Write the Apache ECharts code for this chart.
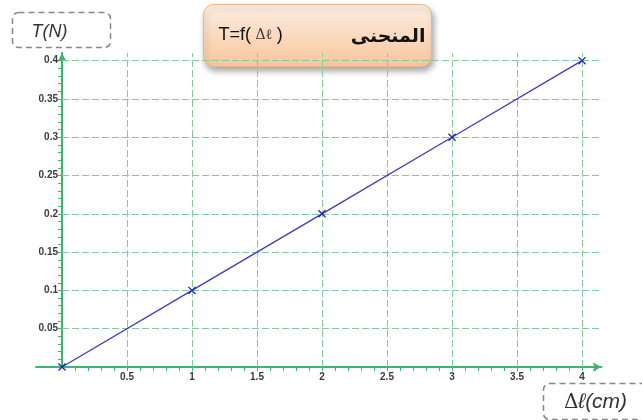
<!DOCTYPE html>
<html>
<head>
<meta charset="utf-8">
<style>html,body{margin:0;padding:0;background:#fff;}#c{width:642px;height:420px;}</style>
<script src="https://cdn.jsdelivr.net/npm/echarts@6/dist/echarts.min.js"></script>
</head>
<body>
<div id="c"></div>
<script>
// Data
const elongation = [0, 1, 2, 3, 4];          // Δℓ (cm)
const tension = [0, 0.1, 0.2, 0.3, 0.4];      // T (N)
const xTickLabels = [0.5, 1, 1.5, 2, 2.5, 3, 3.5, 4];
const yTickLabels = [0.05, 0.1, 0.15, 0.2, 0.25, 0.3, 0.35, 0.4];
const titleText = 'T=f(Δℓ)';
const titleArabic = 'المنحنى';
const yName = 'T(N)';
const xName = 'Δℓ(cm)';

const X_MIN = -0.2, X_MAX = 4.15, Y_MIN = 0, Y_MAX = 0.41;

// minor tick positions (every 0.1 on x, every 0.01 on y)
const xMinor = []; for (let i = 1; i <= 41; i++) xMinor.push(+(i * 0.1).toFixed(2));
const yMinor = []; for (let i = 1; i <= 40; i++) yMinor.push(+(i * 0.01).toFixed(3));

const data = elongation.map((x, i) => [x, tension[i]]);

const gridColor = '#86c99a';
const axisColor = '#3cb66a';

const gridLines = [];
xTickLabels.forEach(v => gridLines.push({ xAxis: v }));
yTickLabels.forEach(v => gridLines.push([{ coord: [0, v] }, { coord: [X_MAX, v] }]));

const crossPath = 'path://M0,1.2L1.2,0L5,3.8L8.8,0L10,1.2L6.2,5L10,8.8L8.8,10L5,6.2L1.2,10L0,8.8L3.8,5Z';

const chart = echarts.init(document.getElementById('c'), null, { renderer: 'canvas' });
chart.setOption({
  animation: false,
  backgroundColor: '#ffffff',
  grid: { left: 36, right: 40.5, top: 53, bottom: 53, containLabel: false },
  xAxis: {
    type: 'value', min: X_MIN, max: X_MAX,
    axisLine: { show: true, onZero: true, lineStyle: { color: axisColor, width: 2 }, symbol: ['none', 'arrow'], symbolSize: [7, 9] },
    axisTick: { show: true, customValues: xMinor, length: 4, inside: false, lineStyle: { color: axisColor, width: 1 } },
    axisLabel: { show: true, customValues: xTickLabels, margin: 5, fontSize: 10, fontWeight: 'bold', color: '#3a3a3a', fontFamily: 'Liberation Sans, Arial, sans-serif', formatter: v => String(v) },
    splitLine: { show: false }
  },
  yAxis: {
    type: 'value', min: Y_MIN, max: Y_MAX,
    axisLine: { show: true, onZero: true, lineStyle: { color: axisColor, width: 2 }, symbol: ['none', 'arrow'], symbolSize: [7, 9] },
    axisTick: { show: true, customValues: yMinor, length: 4, inside: false, lineStyle: { color: axisColor, width: 1 } },
    axisLabel: { show: true, customValues: yTickLabels, margin: -22, align: 'right', fontSize: 10, fontWeight: 'bold', color: '#3a3a3a', fontFamily: 'Liberation Sans, Arial, sans-serif', formatter: v => String(v) },
    splitLine: { show: false }
  },
  series: [{
    type: 'line',
    data: data,
    symbol: crossPath,
    symbolSize: 8,
    showAllSymbol: true,
    lineStyle: { color: '#3c3cc0', width: 1.3 },
    itemStyle: { color: '#2a2aa8' },
    z: 5,
    markLine: {
      silent: true,
      symbol: ['none', 'none'],
      label: { show: false },
      lineStyle: { color: gridColor, type: [7, 3], width: 1 },
      emphasis: { disabled: true },
      data: gridLines,
      z: 1
    }
  }],
  graphic: [
    {
      type: 'group', left: 203, top: 4,
      children: [
        { type: 'rect', shape: { x: 0, y: 0, width: 228, height: 62, r: 10 },
          style: {
            fill: new echarts.graphic.LinearGradient(0, 0, 0, 1, [
              { offset: 0, color: '#fdeee2' }, { offset: 1, color: '#f8c59c' }
            ]),
            stroke: '#eab48c', lineWidth: 1,
            shadowBlur: 6, shadowOffsetX: 2, shadowOffsetY: 4, shadowColor: 'rgba(0,0,0,0.35)'
          } },
        { type: 'text', x: 15, y: 31,
          style: {
            text: '{a|T=f(}{b| Δℓ }{a|)}',
            verticalAlign: 'middle',
            rich: {
              a: { fontSize: 18, fontFamily: 'Liberation Sans, Arial, sans-serif', fill: '#111' },
              b: { fontSize: 14, fontFamily: 'DejaVu Serif, serif', fill: '#333' }
            }
          } },
        { type: 'text', x: 222, y: 32,
          style: { text: titleArabic, align: 'right', verticalAlign: 'middle', fontSize: 19, fontWeight: 'bold', fontFamily: 'Noto Sans, DejaVu Sans, sans-serif', fill: '#111' } }
      ]
    },
    {
      type: 'group', left: 10, top: 10,
      children: [
        { type: 'rect', shape: { x: 0, y: 0, width: 98, height: 35, r: 6 },
          style: { fill: 'none', stroke: '#888', lineWidth: 1.5, lineDash: [6, 4] } },
        { type: 'text', x: 37, y: 19,
          style: { text: yName, align: 'center', verticalAlign: 'middle', fontSize: 18, fontStyle: 'italic', fontFamily: 'Liberation Sans, Arial, sans-serif', fill: '#333' } }
      ]
    },
    {
      type: 'group', left: 541, top: 381,
      children: [
        { type: 'rect', shape: { x: 0, y: 0, width: 110, height: 36, r: 6 },
          style: { fill: 'none', stroke: '#888', lineWidth: 1.5, lineDash: [6, 4] } },
        { type: 'text', x: 52, y: 19,
          style: {
            text: '{d|' + xName.slice(0, 1) + '}{i|' + xName.slice(1) + '}',
            align: 'center', verticalAlign: 'middle',
            rich: {
              d: { fontSize: 20, fontFamily: 'DejaVu Serif, serif', fill: '#333' },
              i: { fontSize: 21, fontStyle: 'italic', fontFamily: 'Liberation Sans, Arial, sans-serif', fill: '#333' }
            }
          } }
      ]
    }
  ]
});
</script>
</body>
</html>
